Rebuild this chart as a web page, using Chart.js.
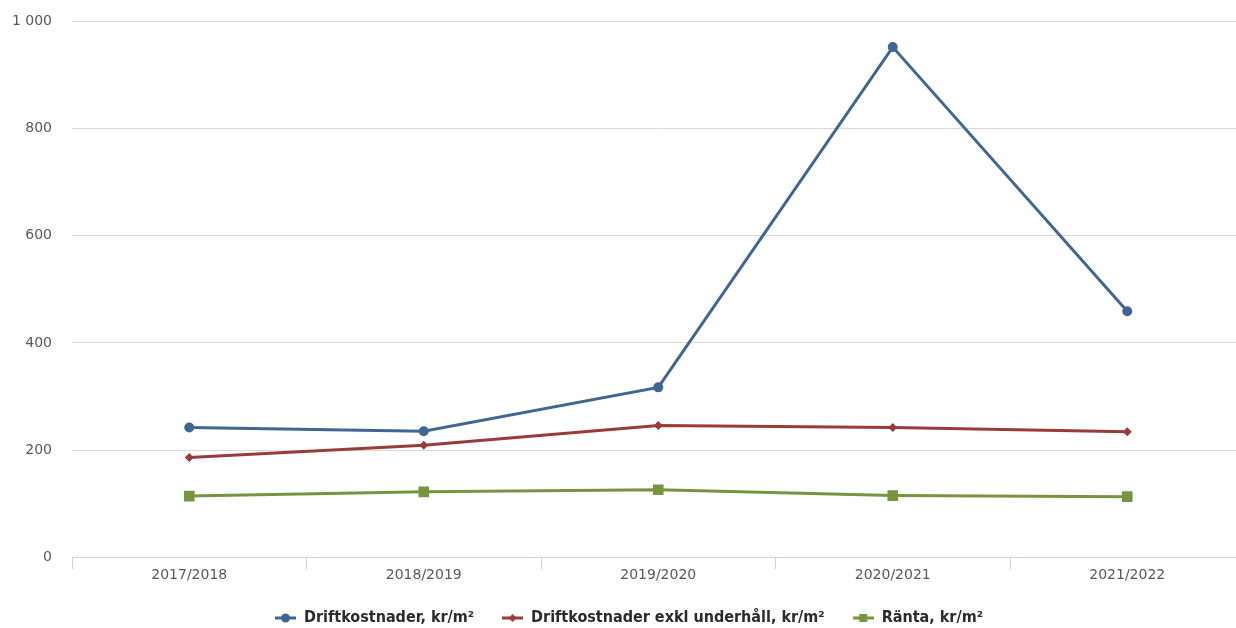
<!DOCTYPE html>
<html>
<head>
<meta charset="utf-8">
<script src="https://cdn.jsdelivr.net/npm/chart.js@4"></script>
<style>
  html, body { margin: 0; padding: 0; background: #fff; overflow: hidden; }
  #wrap { position: relative; width: 1252px; height: 643px; margin-top: -7px; }
</style>
</head>
<body>
<div id="wrap"><canvas id="c"></canvas></div>
<script>
// Driftkostnader per år — three line series, kr/m²
var years = ['2017/2018', '2018/2019', '2019/2020', '2020/2021', '2021/2022'];
var drift = [242, 235, 317, 952, 459];
var driftExkl = [186, 209, 246, 242, 234];
var ranta = [114, 122, 126, 115, 113];
var yTicks = [0, 200, 400, 600, 800, 1000];

var BLUE = '#406694', RED = '#983c3a', GREEN = '#779441';

// small canvas with line + marker for legend entries
function legendIcon(color, style) {
  var c = document.createElement('canvas');
  c.width = 21; c.height = 12;
  var g = c.getContext('2d');
  g.strokeStyle = color; g.fillStyle = color; g.lineWidth = 3;
  g.beginPath(); g.moveTo(0, 6); g.lineTo(21, 6); g.stroke();
  g.beginPath();
  if (style === 'circle') g.arc(10.5, 6, 4.5, 0, Math.PI * 2);
  else if (style === 'diamond') { g.moveTo(10.5, 2); g.lineTo(14.5, 6); g.lineTo(10.5, 10); g.lineTo(6.5, 6); g.closePath(); }
  else g.rect(6.5, 2, 8, 8);
  g.fill();
  return c;
}

var series = [
  { label: 'Driftkostnader, kr/m²', data: drift, color: BLUE, pt: 'circle', r: 5, icon: 'circle' },
  { label: 'Driftkostnader exkl underhåll, kr/m²', data: driftExkl, color: RED, pt: 'rectRot', r: 4.5, icon: 'diamond' },
  { label: 'Ränta, kr/m²', data: ranta, color: GREEN, pt: 'rect', r: 7.5, icon: 'rect' }
];

new Chart(document.getElementById('c'), {
  type: 'line',
  data: {
    labels: years,
    datasets: series.map(function (s) {
      return {
        label: s.label,
        data: s.data,
        borderColor: s.color,
        backgroundColor: s.color,
        borderWidth: 3,
        pointStyle: s.pt,
        pointRadius: s.r,
        pointBorderWidth: 0,
        tension: 0
      };
    })
  },
  options: {
    responsive: true,
    maintainAspectRatio: false,
    animation: false,
    layout: { padding: { left: 6, right: 0, top: 0, bottom: 0 } },
    scales: {
      x: {
        offset: true,
        grid: { display: true, drawOnChartArea: false, drawTicks: true, tickLength: 12, color: '#c5d3e3', offset: true },
        border: { display: true, color: '#c5d3e3' },
        ticks: { color: '#595959', font: { family: 'DejaVu Sans', size: 14 }, padding: -2 }
      },
      y: {
        min: 0, max: 1000,
        afterBuildTicks: function (ax) { ax.ticks = yTicks.map(function (v) { return { value: v }; }); },
        afterFit: function (ax) { ax.width = 66; },
        grid: { color: '#d9d9d9', drawTicks: false, lineWidth: 1 },
        border: { display: false },
        ticks: {
          color: '#595959', font: { family: 'DejaVu Sans', size: 14 }, padding: 20,
          callback: function (v) { return String(v).replace(/\B(?=(\d{3})+(?!\d))/g, ' '); }
        }
      }
    },
    plugins: {
      legend: {
        position: 'bottom',
        labels: {
          color: '#2b2b2b',
          font: { family: 'DejaVu Sans Condensed', size: 16, weight: 'bold' },
          usePointStyle: true,
          pointStyleWidth: 21,
          padding: 28,
          generateLabels: function (chart) {
            return series.map(function (s, i) {
              return { text: s.label, pointStyle: legendIcon(s.color, s.icon), fillStyle: s.color, strokeStyle: s.color, lineWidth: 0, datasetIndex: i, hidden: false, fontColor: '#2b2b2b' };
            });
          }
        }
      },
      tooltip: { enabled: false }
    }
  }
});
</script>
</body>
</html>
